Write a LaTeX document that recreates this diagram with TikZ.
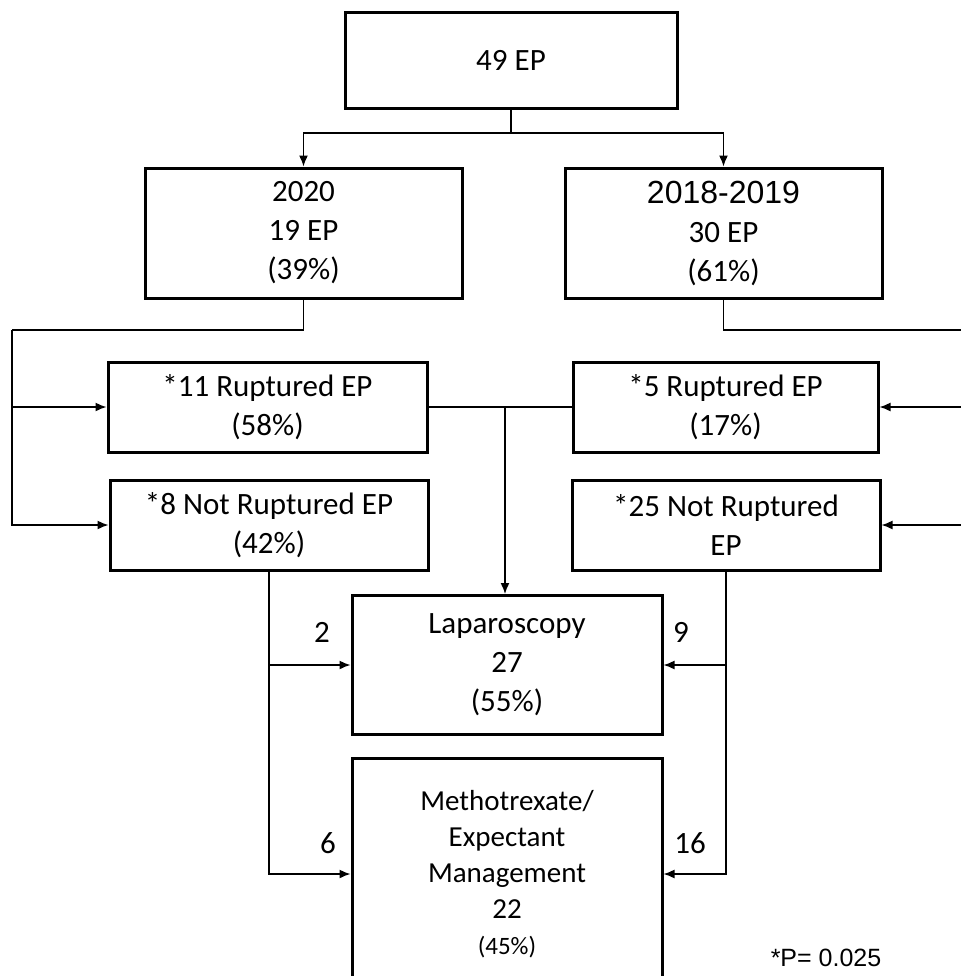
\documentclass[tikz,border=0pt]{standalone}
\usepackage{fontspec}
\setmainfont{Carlito}
\newfontfamily\arialfont{Liberation Sans}
\usetikzlibrary{arrows.meta, positioning}

\tikzset{
	box/.style={draw, line width=1.5pt, align=center, inner sep=0pt,
		font=\fontsize{15.5}{19.5}\selectfont},
	link/.style={line width=0.75pt},
	arr/.style={link, -{Latex[length=5.5pt, width=4.5pt]}},
	count/.style={font=\fontsize{15.5}{18}\selectfont}
}

\begin{document}
\begin{tikzpicture}[x=0.5pt, y=-0.5pt]
	\useasboundingbox (0, 0) rectangle (960, 976);
	% boxes
	\node[box, minimum width=166pt, minimum height=48pt] (total) at (511, 60) {49 EP};
	\node[box, minimum width=158.5pt, minimum height=65pt] (y2020) at (303.5, 233) {2020\\19 EP\\(39\%)};
	\node[box, minimum width=158.5pt, minimum height=65pt] (y1819) at (723.5, 233) {{\arialfont\fontsize{16}{19.5}\selectfont 2018-2019}\\30 EP\\(61\%)};
	\node[box, minimum width=159.5pt, minimum height=45pt] (rup20) at (267.5, 407) {*11 Ruptured EP\\(58\%)};
	\node[box, minimum width=159pt, minimum height=45pt] (nrup20) at (269, 525) {*8 Not Ruptured EP\\(42\%)};
	\node[box, minimum width=152.5pt, minimum height=45pt] (rup19) at (725.5, 407) {*5 Ruptured EP\\(17\%)};
	\node[box, minimum width=154pt, minimum height=45pt] (nrup19) at (726, 525) {*25 Not Ruptured\\EP};
	\node[box, minimum width=155pt, minimum height=69.5pt] (lap) at (507, 665) {Laparoscopy\\27\\(55\%)};
	\node[box, minimum width=155pt, minimum height=116pt, font=\fontsize{14.5}{18}\selectfont] (mtx) at (507, 874)
		{Methotrexate/\\Expectant\\Management\\22\\{\fontsize{12.5}{18}\selectfont(45\%)}};

	% counts
	\node[count] (n2) at (322, 632) {2};
	\node[count] (n9) at (681, 632) {9};
	\node[count] (n6) at (328, 843) {6};
	\node[count] (n16) at (690, 843) {16};
	\node[font=\arialfont\fontsize{12.5}{14}\selectfont] (pval) at (826, 958) {*P= 0.025};

	% connectors
	\coordinate (split) at (511, 133);
	\coordinate (lt) at (12, 330);
	\coordinate (rt) at (963, 330);
	\coordinate (mid) at (505, 407);
	\draw[link] (total.south) -- (split);
	\draw[arr] (split) -| (y2020.north);
	\draw[arr] (split) -| (y1819.north);
	\draw[link] (y2020.south) |- (lt);
	\draw[arr] (lt) |- (rup20.west);
	\draw[arr] (lt) |- (nrup20.west);
	\draw[link] (y1819.south) |- (rt);
	\draw[arr] (rt) |- (rup19.east);
	\draw[arr] (rt) |- (nrup19.east);
	\draw[link] (rup20.east) -- (rup19.west);
	\draw[arr] (mid) -- (mid |- lap.north);
	\draw[arr] (nrup20.south) |- (lap.west);
	\draw[arr] (nrup20.south) |- (mtx.west);
	\draw[arr] (nrup19.south) |- (lap.east);
	\draw[arr] (nrup19.south) |- (mtx.east);
\end{tikzpicture}
\end{document}
